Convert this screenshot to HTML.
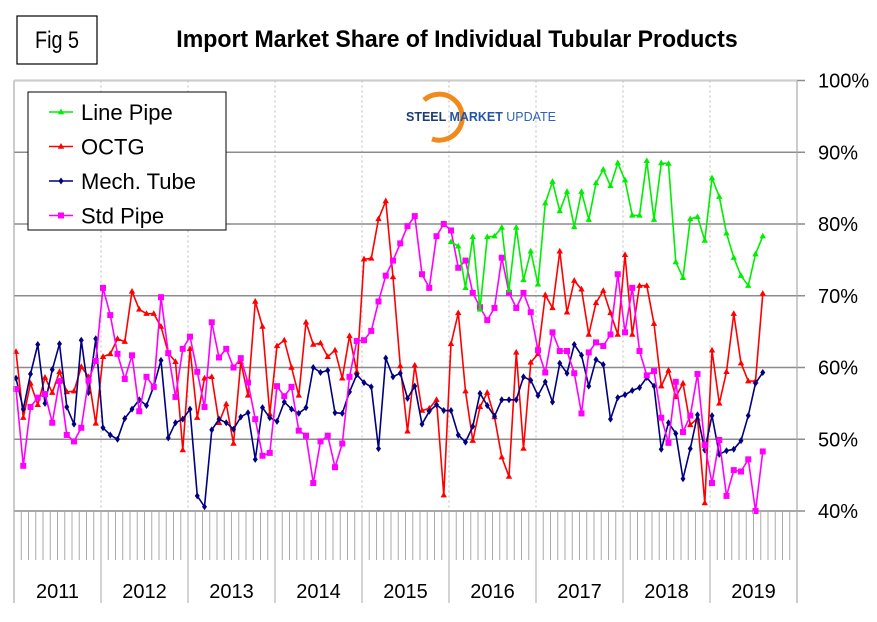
<!DOCTYPE html>
<html><head><meta charset="utf-8"><style>
html,body{margin:0;padding:0;background:#fff;}
svg{display:block;font-family:"Liberation Sans",Arial,sans-serif;}
</style></head><body>
<svg id="chart" width="877" height="622" viewBox="0 0 877 622">
  <rect x="0" y="0" width="877" height="622" fill="#fff"/>
  <g id="fig-label">
    <rect x="17" y="16" width="80" height="48" fill="#fff" stroke="#000" stroke-width="1.2"/>
    <text x="57" y="48" font-size="22" text-anchor="middle" fill="#000" transform="translate(57,48) scale(0.9,1.1) translate(-57,-48)">Fig 5</text>
  </g>
  <text x="457" y="47" font-size="22" font-weight="bold" text-anchor="middle" fill="#000" transform="translate(457,47) scale(1.05,1.1) translate(-457,-47)">Import Market Share of Individual Tubular Products</text>
  <g id="grid"></g>
  <g id="series"></g>
  <g id="axes"></g>
  <g>
    <path d="M424,100 A23,23 0 1 1 432,139" fill="none" stroke="#f08a1c" stroke-width="5"/>
    <text x="406" y="121" font-size="13" textLength="150" lengthAdjust="spacingAndGlyphs" fill="#1a3c7a"><tspan font-weight="bold">STEEL</tspan><tspan font-weight="bold" fill="#2456a6"> MARKET</tspan><tspan fill="#2f63b5"> UPDATE</tspan></text>
  </g>
  <g id="legend">
    <rect x="28" y="92" width="198" height="138" fill="#fff" stroke="#000" stroke-width="1"/>
  </g>
</svg>
<script>
const months = 104; // Jan 2011 .. Aug 2019
const years = ["2011","2012","2013","2014","2015","2016","2017","2018","2019"];
const yTicks = [40,50,60,70,80,90,100];
const yTickLabels = ["40%","50%","60%","70%","80%","90%","100%"];
const linePipeStart = 60;
const linePipe = [77.5,76.9,71.1,78.2,68.1,78.2,78.3,79.5,70.8,79.5,72.2,76.2,71.6,82.9,85.9,81.8,84.5,79.6,84.5,80.6,85.7,87.6,85.3,88.5,86.1,81.2,81.2,88.8,80.6,88.5,88.4,74.7,72.5,80.7,81.0,77.7,86.4,83.8,78.7,75.3,72.8,71.4,75.8,78.3];
const octg = [62.2,53.0,57.8,54.8,58.6,56.5,59.4,56.6,56.7,60.1,58.7,52.2,61.5,61.9,64.0,63.6,70.6,68.1,67.5,67.5,65.7,62.0,60.8,48.5,62.6,53.0,58.5,58.7,52.3,54.9,49.4,60.8,56.1,69.2,65.7,53.5,63.0,63.8,60.0,56.1,66.3,63.2,63.4,61.5,62.4,58.5,64.4,59.4,75.1,75.2,80.7,83.2,72.6,60.2,51.1,60.3,54.0,54.3,55.5,42.2,63.3,67.6,56.7,49.8,54.5,56.5,53.1,47.5,44.8,62.1,48.7,60.7,61.9,70.1,68.3,76.2,67.7,72.1,70.9,64.6,69.0,70.7,67.6,64.6,75.7,64.6,71.4,71.4,66.1,57.4,59.6,55.9,57.8,52.0,52.9,41.1,62.4,55.0,59.4,67.5,60.6,58.1,58.1,70.3];
const mechTube = [58.5,54.2,59.1,63.2,55.0,59.7,63.3,54.5,52.1,63.8,56.5,64.0,51.6,50.6,50.0,52.9,54.2,55.5,54.7,57.4,61.0,50.2,52.3,52.8,54.2,42.1,40.6,51.3,52.8,52.3,51.4,53.1,53.7,47.2,54.4,53.0,52.5,55.2,54.2,53.6,54.4,60.0,59.3,59.6,53.7,53.6,56.6,59.0,57.9,57.3,48.7,61.3,58.7,59.2,55.7,57.4,52.1,53.9,54.8,54.0,54.0,50.6,49.6,51.8,56.4,54.7,53.2,55.5,55.5,55.5,58.7,58.2,56.1,58.0,55.2,60.6,59.2,63.2,61.7,57.4,61.1,60.4,52.8,55.8,56.2,56.8,57.2,58.6,57.4,48.6,52.3,50.8,44.5,48.7,53.4,48.5,53.3,47.9,48.4,48.6,49.8,53.3,57.8,59.3];
const stdPipe = [57.0,46.3,54.5,55.8,56.3,52.3,58.1,50.6,49.7,51.6,58.2,60.9,71.1,67.3,61.9,58.4,61.7,53.9,58.7,57.3,69.8,62.0,55.9,62.6,64.3,59.4,54.5,66.3,61.4,62.6,60.0,61.3,57.9,52.8,47.7,48.1,57.4,56.0,57.3,51.2,50.5,43.9,49.7,50.5,46.1,49.4,58.7,63.7,63.8,65.1,69.2,72.8,74.9,77.3,79.7,81.1,73.0,71.1,78.3,80.0,79.1,73.9,74.9,70.4,68.4,66.6,68.3,75.3,70.4,68.3,70.4,67.7,62.4,59.3,64.9,62.3,62.3,59.2,53.6,62.1,63.5,63.0,64.6,73.0,64.9,71.1,62.3,58.9,59.5,53.0,49.5,58.0,51.0,53.3,59.1,49.2,43.9,49.9,42.1,45.7,45.5,47.2,40.0,48.3];

const NS = "http://www.w3.org/2000/svg";
const PL = 14, PR = 797, PT = 80.5, PB = 511;
const monthW = (PR - PL) / 108;
function xScale(i){ return 16 + monthW * i; }
function yScale(v){ return PB - (v - 40) * (PB - PT) / 60; }
function mk(tag, attrs, parent){ const e = document.createElementNS(NS, tag); for (const k in attrs) e.setAttribute(k, attrs[k]); parent.appendChild(e); return e; }

const grid = document.getElementById('grid');
const axes = document.getElementById('axes');
for (let y = 1; y < years.length; y++) {
  const x = PL + y * 12 * monthW;
  const l = mk('line', {x1:x, x2:x, y1:PT, y2:PB, stroke:'#bbb', 'stroke-width':1, 'stroke-dasharray':'2,3'}, grid);
  
  
}
yTicks.forEach((t, k) => {
  const y = yScale(t);
  const l = mk('line', {x1:PL, x2:PR + 8, y1:y, y2:y, stroke:'#8c8c8c', 'stroke-width':1.5}, grid);
  
  
  const tx = mk('text', {x:818, y:y + 7, 'font-size':20, fill:'#000'}, axes);
  tx.textContent = yTickLabels[k];
  
  
});
const lb = mk('line', {x1:PL, x2:PL, y1:PT, y2:603, stroke:'#aaa', 'stroke-width':1.2}, axes);


const rb = mk('line', {x1:PR, x2:PR, y1:PT, y2:603, stroke:'#aaa', 'stroke-width':1.2}, axes);


const tb = mk('line', {x1:PL, x2:PR, y1:PT, y2:PT, stroke:'#ccc', 'stroke-width':1}, axes);


for (let m = 1; m < 108; m++) {
  if (m % 12 === 0) continue;
  const x = PL + m * monthW;
  const l = mk('line', {x1:x, x2:x, y1:PB, y2:560, stroke:'#aaa', 'stroke-width':1}, axes);
  
  
}
years.forEach((yr, k) => {
  if (k > 0) {
    const x = PL + k * 12 * monthW;
    const l = mk('line', {x1:x, x2:x, y1:PB, y2:603, stroke:'#aaa', 'stroke-width':1}, axes);
    
    
  }
  const tx = mk('text', {x:PL + (k + 0.5) * 12 * monthW, y:598, 'font-size':20, 'text-anchor':'middle', fill:'#000'}, axes);
  tx.textContent = yr;
  
  
});

const seriesG = document.getElementById('series');
function marker(type, x, y, color, parent) {
  let e;
  if (type === 'tri') e = mk('path', {d:`M${x},${y-3.5}L${x+3.2},${y+2.2}L${x-3.2},${y+2.2}Z`, fill:color}, parent);
  else if (type === 'sq') e = mk('rect', {x:x-3, y:y-3, width:6, height:6, fill:color}, parent);
  else e = mk('path', {d:`M${x},${y-3.5}L${x+2.5},${y}L${x},${y+3.5}L${x-2.5},${y}Z`, fill:color}, parent);
  return e;
}
function drawSeries(vals, start, color, type, name) {
  const g = mk('g', {}, seriesG);
  
  
  const pts = vals.map((v, i) => xScale(i + start).toFixed(1) + ',' + yScale(Math.max(v, 39.8)).toFixed(1)).join(' ');
  const pl = mk('polyline', {points:pts, fill:'none', stroke:color, 'stroke-width':1.6, 'stroke-linejoin':'round'}, g);
  
  
  vals.forEach((v, i) => {
    const m = marker(type, xScale(i + start), yScale(Math.max(v, 39.8)), color, g);
    
    
  });
}
drawSeries(octg, 0, '#ff0000', 'tri', 'octg-series');
drawSeries(mechTube, 0, '#000080', 'dia', 'mech-tube-series');
drawSeries(stdPipe, 0, '#ff00ff', 'sq', 'std-pipe-series');
drawSeries(linePipe, linePipeStart, '#00ee00', 'tri', 'line-pipe-series');

const legend = document.getElementById('legend');
const legNames = ["Line Pipe","OCTG","Mech. Tube","Std Pipe"];
const legColors = ['#00ee00','#ff0000','#000080','#ff00ff'];
const legTypes = ['tri','tri','dia','sq'];
legNames.forEach((n, k) => {
  const y = 112 + k * 34.5;
  const g = mk('g', {}, legend);
  
  
  mk('line', {x1:49, x2:73, y1:y, y2:y, stroke:legColors[k], 'stroke-width':1.6}, g);
  marker(legTypes[k], 61, y, legColors[k], g);
  const t = mk('text', {x:81, y:y + 8, 'font-size':22, fill:'#000'}, g);
  t.textContent = n;
});
</script>
</body></html>
